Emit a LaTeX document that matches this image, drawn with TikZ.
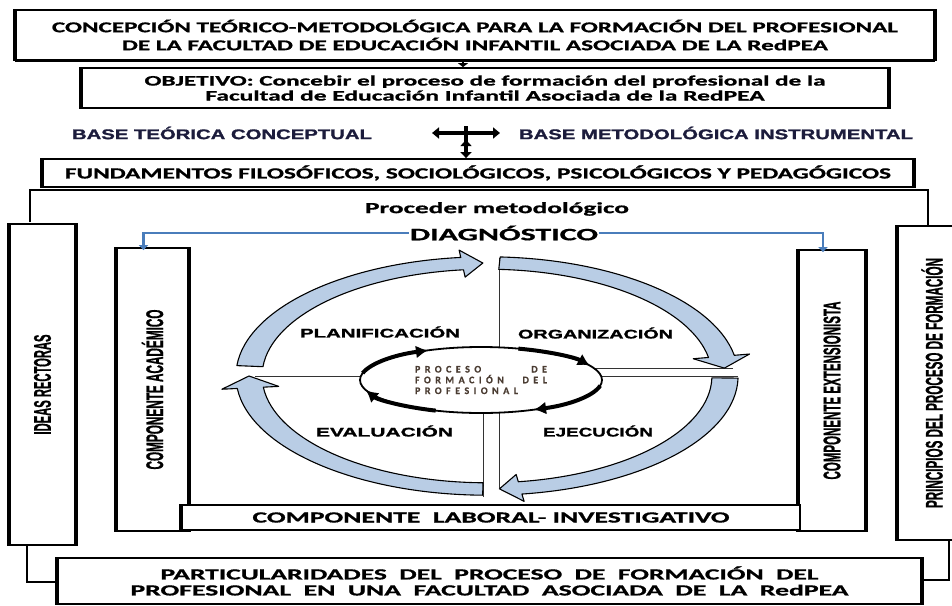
\documentclass[tikz,border=0pt]{standalone}
\usepackage{fontspec}
\setmainfont{Carlito}
\newfontfamily\arl[BoldFeatures={FakeBold=1.2}]{Liberation Sans}
\newfontfamily\calb[BoldFeatures={FakeBold=0.8}]{Carlito}
\newfontfamily\calwide[LetterSpace=45,BoldFeatures={FakeBold=0.6}]{Carlito}
\usetikzlibrary{arrows.meta,calc,shapes.geometric}
\newcommand\fitl[2]{\resizebox{#1}{\height}{#2}}
\newcommand\fatsides[1]{\draw[line width=4pt] (#1.north west) -- (#1.south west) (#1.north east) -- (#1.south east);}
\definecolor{ringblue}{HTML}{B9CDE5}
\definecolor{linkblue}{HTML}{4A7DBB}
\definecolor{navy}{HTML}{1C1C3C}
\definecolor{coretext}{HTML}{4A3C32}
\newcommand\ringarrow[3]{%
  \filldraw[ringstyle] (#1:1.055) arc[start angle=#1, end angle=#2, radius=1.055]
    -- (#2:1.12) -- (#3:1) -- (#2:0.88) -- (#2:0.945)
    arc[start angle=#2, end angle=#1, radius=0.945] -- cycle;}
\begin{document}
\begin{tikzpicture}[x=1pt,y=-1pt,
  box/.style={draw, line width=1.8pt, fill=white, inner sep=0pt, align=center},
  frameline/.style={line width=1.8pt},
  ringstyle/.style={fill=ringblue, draw=black, line width=1.1pt, line join=round},
  divider/.style={line width=1pt, draw=black!80},
  corearrow/.style={line width=4pt, -{Latex[length=12pt,width=13pt]}},
  blockdown/.style={line width=4.5pt, -{Triangle[length=6pt,width=11pt]}},
  blockboth/.style={line width=4pt, {Triangle[length=7pt,width=11pt]}-{Triangle[length=7pt,width=11pt]}},
  diagarrow/.style={draw=linkblue, line width=2.2pt, -{Triangle[length=5pt,width=9pt]}},
  toptext/.style={font={\calb\bfseries\fontsize{15}{18}\selectfont}},
  objtext/.style={font={\calb\bfseries\fontsize{14.5}{15}\selectfont}},
  midtext/.style={font={\calb\bfseries\fontsize{15.5}{16}\selectfont}},
  basetext/.style={font={\arl\bfseries\fontsize{14}{14}\selectfont}, text=navy, inner sep=0pt},
  vtext/.style={font={\arl\bfseries\fontsize{24}{24}\selectfont}},
  phase/.style={font={\arl\bfseries\fontsize{12.5}{12.5}\selectfont}, inner sep=0pt},
]
\useasboundingbox (0,0) rectangle (952,605);
\clip (0,0) rectangle (952,605);

% outer frame (partly hidden behind boxes)
\draw[frameline] (30,222) -- (30,190) -- (928,190) -- (928,225);
\draw[frameline] (27,545) -- (27,582) -- (58,582);
\draw[frameline] (949,540) -- (949,580) -- (921,580);

% top box
\node[box, toptext, minimum width=918pt, minimum height=50pt] (top) at (475,35)
  {\fitl{846pt}{CONCEPCIÓN TEÓRICO-METODOLÓGICA PARA LA FORMACIÓN DEL PROFESIONAL}\\
   \fitl{706pt}{DE LA FACULTAD DE EDUCACIÓN INFANTIL ASOCIADA DE LA RedPEA}};
\fatsides{top}
\draw[line width=3pt] (top.south west) -- (top.south east);

% objective box
\node[box, objtext, minimum width=806pt, minimum height=40pt] (obj) at (485,88)
  {\fitl{681pt}{OBJETIVO: Concebir el proceso de formación del profesional de la}\\
   \fitl{559pt}{Facultad de Educación Infantil Asociada de la RedPEA}};
\fatsides{obj}
\draw[line width=2.2pt, -{Triangle[length=4pt,width=10pt]}] (top.south -| 463,0) -- (obj.north -| 463,0);

% base row
\node[basetext] (base1) at (222,133) {\fitl{300pt}{BASE TEÓRICA CONCEPTUAL}};
\node[basetext] (base2) at (716,133) {\fitl{394pt}{BASE METODOLÓGICA INSTRUMENTAL}};
\coordinate (cross) at (466,133);
\draw[blockdown] ([yshift=-21pt]cross) -- ([yshift=-7pt]cross);
\draw[blockboth] ([xshift=-34pt]cross) -- ([xshift=34pt]cross);

% fundamentos
\node[box, midtext, minimum width=870pt, minimum height=28pt] (fund) at (478,173)
  {\fitl{826pt}{FUNDAMENTOS FILOSÓFICOS, SOCIOLÓGICOS, PSICOLÓGICOS Y PEDAGÓGICOS}};
\fatsides{fund}
\draw[blockdown] ([yshift=7pt]cross) -- (fund.north -| cross);

% proceder / diagnostico
\node[midtext, inner sep=0pt] (proc) at (497,209) {\fitl{264pt}{Proceder metodológico}};
\node[font={\calb\bfseries\fontsize{17.5}{17.5}\selectfont}, inner sep=1pt] (diag) at (504,233) {\fitl{188pt}{DIAGNÓSTICO}};

% side boxes
\node[box, vtext, minimum width=65pt, minimum height=321pt] (ideas) at (42.5,384.5)
  {\rotatebox{90}{\fitl{100pt}{IDEAS RECTORAS}}};
\fatsides{ideas}
\node[box, vtext, minimum width=71pt, minimum height=283pt] (acad) at (152.5,389.5)
  {\rotatebox{90}{\fitl{160pt}{COMPONENTE ACADÉMICO}}};
\fatsides{acad}
\node[box, vtext, minimum width=66pt, minimum height=281pt] (ext) at (832,390.5)
  {\rotatebox{90}{\fitl{178pt}{COMPONENTE EXTENSIONISTA}}};
\fatsides{ext}
\node[box, vtext, minimum width=68pt, minimum height=314pt] (princ) at (932,383)
  {\rotatebox{90}{\fitl{250pt}{PRINCIPIOS DEL PROCESO DE FORMACIÓN}}};
\fatsides{princ}

\draw[diagarrow] (diag.west) -| ([xshift=-9pt,yshift=-3pt]acad.north);
\draw[diagarrow] (diag.east) -| ([xshift=-9pt,yshift=-3pt]ext.north);

% laboral
\node[box, midtext, minimum width=618pt, minimum height=25pt] (lab) at (491,517.5)
  {\fitl{477pt}{COMPONENTE\ \ LABORAL- INVESTIGATIVO}};
\draw[line width=4pt] (lab.north west) -- (lab.south west);

% particularidades
\node[box, font={\calb\bfseries\fontsize{15.5}{16}\selectfont}, minimum width=863pt, minimum height=46pt] (part) at (489.5,581)
  {\fitl{658pt}{PARTICULARIDADES\ \ DEL\ \ PROCESO\ \ DE\ \ FORMACIÓN\ \ DEL}\\
   \fitl{718pt}{PROFESIONAL\ \ EN\ \ UNA\ \ FACULTAD\ \ ASOCIADA\ \ DE\ \ LA\ \ RedPEA}};
\fatsides{part}

% cycle: dividers
\coordinate (cc) at (481,380);
\coordinate (dT) at (499,258);
\coordinate (dR1) at (733,368);
\coordinate (dR2) at (738,376);
\coordinate (dB1) at (499,488);
\coordinate (dB2) at (483,497);
\coordinate (dL) at (255,376);
\draw[divider] (dT) -- (dT |- cc);
\draw[divider] (dR1) -- (dR1 -| cc);
\draw[divider] (dR2) -- (dR2 -| cc);
\draw[divider] (dB1) -- (dB1 |- cc);
\draw[divider] (dB2) -- (dB2 |- cc);
\draw[divider] (dL) -- (dL -| cc);

% cycle: block arrows
\begin{scope}[shift={(487,376)}, x={(238pt,0pt)}, y={(0pt,113pt)}]
  \ringarrow{175}{96}{91}
  \ringarrow{87}{10}{4}
  \ringarrow{-1}{-82}{-87}
  \ringarrow{-91}{-174}{-180}
\end{scope}

% core
\node[draw, ellipse, line width=1.8pt, fill=white, minimum width=242pt, minimum height=66pt, inner sep=0pt,
      font={\calwide\bfseries\fontsize{10}{10.75}\selectfont}, text=coretext, align=left] (core) at (cc)
  {\makebox[132pt][s]{PROCESO DE}\\ \makebox[132pt][s]{FORMACIÓN DEL}\\ PROFESIONAL};
\draw[corearrow] ([shift={(cc)}]168:121pt and 33pt) arc[start angle=168, end angle=116, x radius=121pt, y radius=33pt];
\draw[corearrow] ([shift={(cc)}]72:121pt and 33pt) arc[start angle=72, end angle=26, x radius=121pt, y radius=33pt];
\draw[corearrow] ([shift={(cc)}]-10:121pt and 33pt) arc[start angle=-10, end angle=-64, x radius=121pt, y radius=33pt];
\draw[corearrow] ([shift={(cc)}]-112:121pt and 33pt) arc[start angle=-112, end angle=-162, x radius=121pt, y radius=33pt];

% phase labels
\node[phase] (plan) at (380,332) {\fitl{160pt}{PLANIFICACIÓN}};
\node[phase] (org) at (595.5,333) {\fitl{155pt}{ORGANIZACIÓN}};
\node[phase] (eval) at (384.5,431) {\fitl{137pt}{EVALUACIÓN}};
\node[phase] (ejec) at (598,431) {\fitl{110pt}{EJECUCIÓN}};
\end{tikzpicture}
\end{document}
